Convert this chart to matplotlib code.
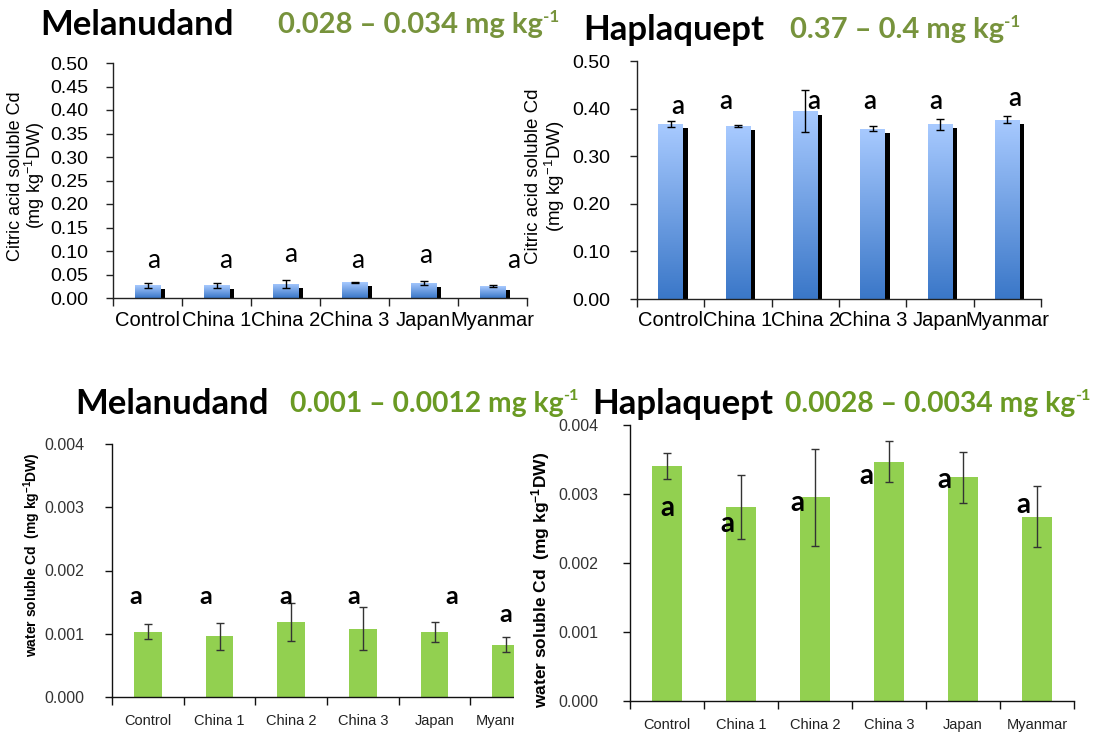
import numpy as np
import matplotlib
matplotlib.use('Agg')
import matplotlib.pyplot as plt
from matplotlib.colors import LinearSegmentedColormap
from matplotlib.transforms import ScaledTranslation
from matplotlib.patches import Rectangle

plt.rcParams['mathtext.fontset'] = 'custom'
plt.rcParams['mathtext.rm'] = 'Liberation Sans'
plt.rcParams['mathtext.bf'] = 'Liberation Sans:bold'

sites = ['Control', 'China 1', 'China 2', 'China 3', 'Japan', 'Myanmar']
letters = ['a', 'a', 'a', 'a', 'a', 'a']

# citric acid soluble Cd, mg/kg DW (mean, sd)
cit_mel = [0.027, 0.027, 0.030, 0.033, 0.032, 0.025]
cit_mel_sd = [0.005, 0.005, 0.009, 0.001, 0.004, 0.002]
cit_hap = [0.367, 0.363, 0.395, 0.358, 0.367, 0.377]
cit_hap_sd = [0.006, 0.002, 0.045, 0.006, 0.011, 0.007]

# water soluble Cd, mg/kg DW (mean, sd)
wat_mel = [0.00103, 0.00096, 0.00119, 0.00108, 0.00103, 0.00083]
wat_mel_sd = [0.00012, 0.00021, 0.00030, 0.00034, 0.00016, 0.00012]
wat_hap = [0.00341, 0.00281, 0.00295, 0.00347, 0.00324, 0.00267]
wat_hap_sd = [0.00019, 0.00046, 0.00070, 0.00030, 0.00037, 0.00044]

# where the significance letters sit (x shift in bar units, height)
lab_cit_mel_dx = [0.09, 0.13, 0.08, 0.05, 0.03, 0.30]
lab_cit_mel_y = [0.080, 0.080, 0.093, 0.080, 0.091, 0.080]
lab_cit_hap_dx = [0.11, -0.18, 0.13, -0.04, -0.07, 0.11]
lab_cit_hap_y = [0.404, 0.415, 0.415, 0.415, 0.415, 0.422]
lab_wat_mel_dx = [-0.17, -0.19, -0.07, -0.12, 0.24, 0.0]
lab_wat_mel_y = [0.00159, 0.00159, 0.00159, 0.00159, 0.00159, 0.00130]
lab_wat_hap_dx = [0.0, -0.18, -0.24, -0.30, -0.25, -0.19]
lab_wat_hap_y = [0.00280, 0.00257, 0.00287, 0.00326, 0.00321, 0.00284]

W, H = 1098, 736
fig = plt.figure(figsize=(W / 100, H / 100), dpi=100)

def box(l, r, t, b):
    return [l / W, 1 - b / H, (r - l) / W, (b - t) / H]

blue = LinearSegmentedColormap.from_list('blu', ['#3a77c8', '#a8caff'])
grad = np.linspace(0, 1, 256).reshape(-1, 1)
x = np.arange(len(sites))
sans = 'Liberation Sans'
green_txt = '#77933c'
green_txt2 = '#6a9a23'
bar_green = '#92d050'


def blue_bars(ax, vals, sd, w=0.37):
    shadow = ax.transData + ScaledTranslation(0.045, -0.04, fig.dpi_scale_trans)
    ax.bar(x, vals, w, color='black', transform=shadow, zorder=1)
    bars = ax.bar(x, vals, w, color='none', zorder=2)
    for b in bars:
        im = ax.imshow(grad, cmap=blue, origin='lower', aspect='auto', zorder=2,
                       extent=[b.get_x(), b.get_x() + w, 0, b.get_height()])
        im.set_clip_path(b)
    ax.errorbar(x, vals, yerr=sd, fmt='none', ecolor='black', elinewidth=1,
                capsize=3, capthick=1, zorder=3)


def frame(ax, ypad, lw=1.0, col='#222222'):
    for s in ['top', 'right']:
        ax.spines[s].set_visible(False)
    for s in ['left', 'bottom']:
        ax.spines[s].set_color(col)
        ax.spines[s].set_linewidth(lw)
    ax.set_xlim(-0.5, 5.5)
    ax.set_xticks(np.arange(-0.5, 6, 1))
    ax.set_xticklabels([])
    ax.set_xticks(x, minor=True)
    ax.tick_params(axis='x', which='major', direction='out', length=6, width=lw, color=col)
    ax.tick_params(axis='x', which='minor', length=0)
    ax.tick_params(axis='y', direction='out', length=5, width=lw, color=col, pad=ypad)


# ---- citric acid, Melanudand
ax1 = fig.add_axes(box(113, 527, 63, 298))
blue_bars(ax1, cit_mel, cit_mel_sd)
frame(ax1, 13)
ax1.set_ylim(0, 0.5)
ax1.set_yticks(np.arange(0, 0.501, 0.05))
ax1.set_yticklabels(['%.2f' % v for v in np.arange(0, 0.501, 0.05)], fontsize=14, family=sans)
ax1.set_xticklabels(sites, minor=True, fontsize=14.5, family=sans)
ax1.tick_params(axis='x', which='minor', pad=9)
for i, t in enumerate(letters):
    ax1.text(x[i] + lab_cit_mel_dx[i], lab_cit_mel_y[i], t, ha='center', va='center',
             fontsize=19, family='Lato')

# ---- citric acid, Haplaquept
ax2 = fig.add_axes(box(637, 1041, 61, 299))
blue_bars(ax2, cit_hap, cit_hap_sd)
frame(ax2, 14)
ax2.set_ylim(0, 0.5)
ax2.set_yticks(np.arange(0, 0.501, 0.1))
ax2.set_yticklabels(['%.2f' % v for v in np.arange(0, 0.501, 0.1)], fontsize=14, family=sans)
ax2.set_xticklabels(sites, minor=True, fontsize=14.5, family=sans)
ax2.tick_params(axis='x', which='minor', pad=9)
for i, t in enumerate(letters):
    ax2.text(x[i] + lab_cit_hap_dx[i], lab_cit_hap_y[i], t, ha='center', va='center',
             fontsize=18.5, family='Lato', fontweight='semibold')

# ---- water soluble, Melanudand
ax3 = fig.add_axes(box(112, 542, 444, 697))
ax3.bar(x, wat_mel, 0.39, color=bar_green, zorder=2)
ax3.errorbar(x, wat_mel, yerr=wat_mel_sd, fmt='none', ecolor='#333333', elinewidth=1,
             capsize=3, capthick=1, zorder=3)
frame(ax3, 15, col='#111111')
ax3.set_ylim(0, 0.004)
ax3.set_yticks(np.arange(0, 0.0041, 0.001))
ax3.set_yticklabels(['%.3f' % v for v in np.arange(0, 0.0041, 0.001)], fontsize=11.5,
                    family=sans, color='#333333')
ax3.set_xticklabels(sites, minor=True, fontsize=10.5, family=sans, color='#222222')
ax3.tick_params(axis='x', which='minor', pad=12)
for i, t in enumerate(letters):
    ax3.text(x[i] + lab_wat_mel_dx[i], lab_wat_mel_y[i], t, ha='center', va='center',
             fontsize=18, family='Lato', fontweight='bold')

# the Haplaquept panel sits over the right edge of this one
fig.add_artist(Rectangle((514 / W, 0), 40 / W, 1 - 425 / H, transform=fig.transFigure,
                         facecolor='white', edgecolor='none', zorder=1))

# ---- water soluble, Haplaquept
ax4 = fig.add_axes(box(630, 1074, 425, 701))
ax4.set_zorder(2)
ax4.patch.set_alpha(0)
ax4.bar(x, wat_hap, 0.4, color=bar_green, zorder=2)
ax4.errorbar(x, wat_hap, yerr=wat_hap_sd, fmt='none', ecolor='#333333', elinewidth=1,
             capsize=3, capthick=1, zorder=3)
frame(ax4, 18, col='#111111')
ax4.set_ylim(0, 0.004)
ax4.set_yticks(np.arange(0, 0.0041, 0.001))
ax4.set_yticklabels(['%.3f' % v for v in np.arange(0, 0.0041, 0.001)], fontsize=11.5,
                    family=sans, color='#333333')
ax4.set_xticklabels(sites, minor=True, fontsize=10.5, family=sans, color='#222222')
ax4.tick_params(axis='x', which='minor', pad=12)
for i, t in enumerate(letters):
    ax4.text(x[i] + lab_wat_hap_dx[i], lab_wat_hap_y[i], t, ha='center', va='center',
             fontsize=20, family='Lato', fontweight='bold')

# axis titles
cit_lab = 'Citric acid soluble Cd\n(mg kg$^{-1}$DW)'
fig.text(27 / W, 1 - 176 / H, cit_lab, rotation=90, ha='center', va='center',
         rotation_mode='anchor', fontsize=13, family=sans, linespacing=0.95)
fig.text(546 / W, 1 - 176 / H, cit_lab, rotation=90, ha='center', va='center',
         rotation_mode='anchor', fontsize=13.5, family=sans, linespacing=1.0, zorder=3)
wat_lab = r'water soluble Cd  (mg kg$\mathbf{^{-1}}$DW)'
fig.text(32 / W, 1 - 555 / H, wat_lab, rotation=90, ha='center', va='center',
         rotation_mode='anchor', fontsize=10, family=sans, fontweight='bold')
fig.text(541 / W, 1 - 580 / H, wat_lab, rotation=90, ha='center', va='center',
         rotation_mode='anchor', fontsize=12.5, family=sans, fontweight='bold', zorder=3)


def head(xl, y, soil, xr, rng, col, size):
    fig.text(xl / W, 1 - y / H, soil, ha='left', va='center', fontsize=25,
             family='Lato', fontweight='bold', color='black')
    t = fig.text(xr / W, 1 - y / H, rng + ' mg kg', ha='left', va='center', fontsize=size,
                 family='Lato', fontweight='bold', color=col)
    ax1.annotate('-1', xy=(1.0, 0.82), xycoords=t, ha='left', va='center', fontsize=size * 0.58,
                 family='Lato', fontweight='bold', color=col, annotation_clip=False)


head(40, 25, 'Melanudand', 278, '0.028 – 0.034', green_txt, 21)
head(583, 30, 'Haplaquept', 790, '0.37 – 0.4', green_txt, 21)
head(75, 404, 'Melanudand', 290, '0.001 – 0.0012', green_txt2, 20.3)
head(592, 404, 'Haplaquept', 785, '0.0028 – 0.0034', green_txt2, 20.3)

fig.savefig('out.png', dpi=100)
